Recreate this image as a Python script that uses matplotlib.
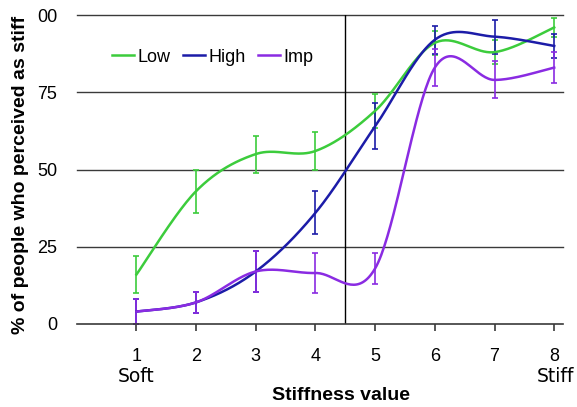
import numpy as np
import matplotlib
matplotlib.use("Agg")
import matplotlib.pyplot as plt

plt.rcParams['font.family'] = ['Liberation Sans', 'DejaVu Sans']

x_vals = [1, 2, 3, 4, 5, 6, 7, 8]
low = [16, 43, 55, 56, 69, 91, 88, 96]
low_err = [6, 7, 6, 6, 5.5, 4, 4, 3]
high = [4, 7, 17, 36, 64, 92, 93, 90]
high_err = [4, 3.5, 6.5, 7, 7.5, 4.5, 5.5, 4]
imp = [4, 7, 17, 16.5, 18, 83, 79, 83]
imp_err = [4, 3.5, 6.5, 6.5, 5, 6, 6, 5]
names = ["Low", "High", "Imp"]
colors = ["#3ccc3c", "#1c1ca8", "#8a2be2"]
yticks = [0, 25, 50, 75, 100]
yticklabels = ["0", "25", "50", "75", "00"]


def catmull_rom(xs, ys, n=40):
    xs = np.asarray(xs, float)
    ys = np.asarray(ys, float)
    P = np.column_stack([xs, ys])
    P = np.vstack([P[0], P, P[-1]])
    out = []
    for i in range(1, len(P) - 2):
        p0, p1, p2, p3 = P[i - 1], P[i], P[i + 1], P[i + 2]
        c1 = p1 + (p2 - p0) / 6.0
        c2 = p2 - (p3 - p1) / 6.0
        t = np.linspace(0, 1, n)[:, None]
        seg = ((1 - t) ** 3) * p1 + 3 * ((1 - t) ** 2) * t * c1 + 3 * (1 - t) * t ** 2 * c2 + t ** 3 * p2
        out.append(seg if i == 1 else seg[1:])
    out = np.vstack(out)
    return out[:, 0], out[:, 1]


fig = plt.figure(figsize=(5.77, 4.07), dpi=100)
ax = fig.add_axes([0.133, 0.204, 0.843, 0.759])
ax.set_xlim(0, 8.15)
ax.set_ylim(0, 100)

for yv in yticks[1:]:
    ax.axhline(yv, color="#3a3a3a", lw=1.0, zorder=1, clip_on=False)
ax.plot([4.5, 4.5], [0, 100], color="black", lw=1.0, zorder=1)

series = [(low, low_err), (high, high_err), (imp, imp_err)]
handles = []
for (vals, errs), c, nm in zip(series, colors, names):
    sx, sy = catmull_rom(x_vals, vals)
    h, = ax.plot(sx, sy, color=c, lw=1.8, label=nm, zorder=3, clip_on=False)
    ax.errorbar(x_vals, vals, yerr=errs, fmt="none", ecolor=c, elinewidth=1.2,
                capsize=2.5, capthick=1.2, zorder=2, clip_on=False)
    handles.append(h)

for s in ["top", "right", "left"]:
    ax.spines[s].set_visible(False)
ax.spines["bottom"].set_color("#3a3a3a")
ax.spines["bottom"].set_linewidth(1.2)

ax.set_xticks(x_vals)
ax.set_xticklabels([str(v) for v in x_vals], fontsize=13)
ax.set_yticks(yticks)
ax.set_yticklabels(yticklabels, fontsize=13)
ax.tick_params(axis="y", length=0, pad=14)
ax.tick_params(axis="x", length=5, width=1.2, color="#3a3a3a", pad=12)

fig.text(136 / 577, 1 - 376 / 407, "Soft", ha="center", va="center", fontsize=13.5,
         family="DejaVu Sans")
fig.text(555 / 577, 1 - 376 / 407, "Stiff", ha="center", va="center", fontsize=13.5,
         family="DejaVu Sans")
fig.text(341 / 577, 1 - 395 / 407, "Stiffness value", ha="center", va="center",
         fontsize=14, fontweight="bold")
fig.text(21 / 577, 0.570, "% of people who perceived as stiff", ha="center", va="center",
         rotation=90, fontsize=14, fontweight="bold")

fig.legend(handles=handles, labels=names, loc="center left",
           bbox_to_anchor=(112 / 577, 1 - 57 / 407), ncol=3, frameon=False,
           fontsize=13, handlelength=1.2, handletextpad=0.2, columnspacing=0.7,
           borderpad=0, borderaxespad=0)

fig.savefig("out.png", dpi=100)
